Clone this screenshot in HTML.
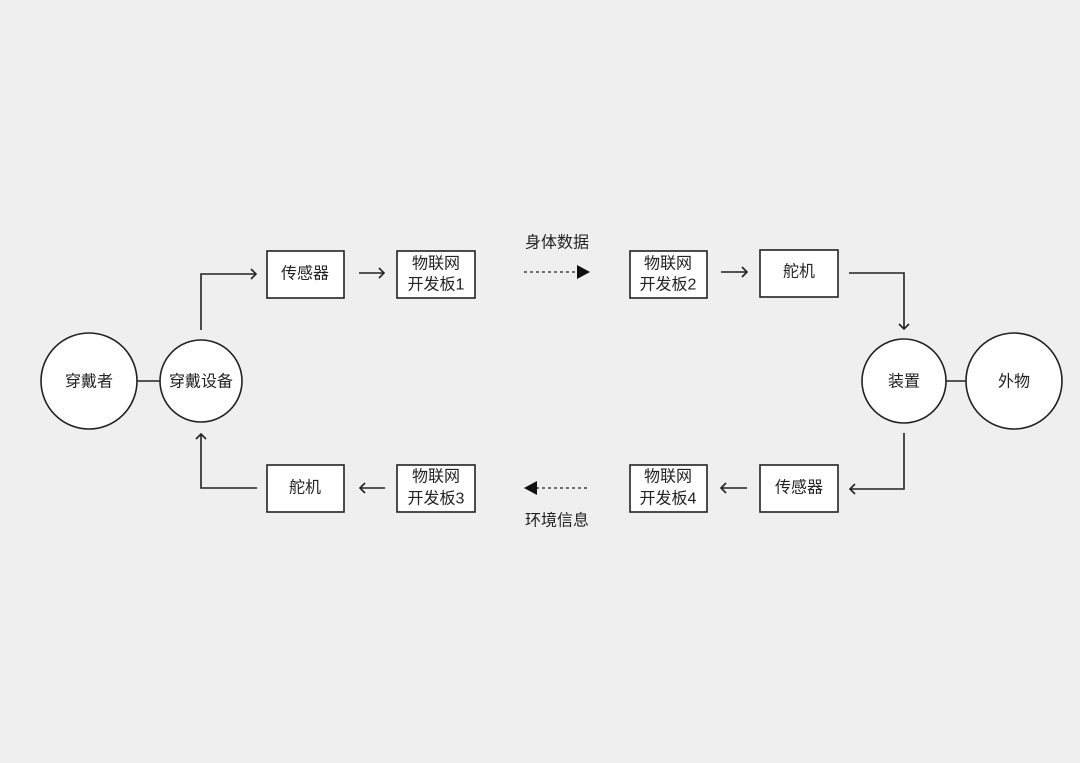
<!DOCTYPE html>
<html><head><meta charset="utf-8"><style>
html,body{margin:0;padding:0;background:#efefef;}
svg{display:block;}
text{font-family:"Liberation Sans","Noto Sans CJK SC",sans-serif;font-size:16px;fill:#222;text-anchor:middle;dominant-baseline:central;}
</style></head><body>
<svg width="1080" height="763" viewBox="0 0 1080 763" xmlns="http://www.w3.org/2000/svg">
<rect width="1080" height="763" fill="#efefef"/>
<g stroke="#222" stroke-width="1.6" fill="none">
<circle cx="89" cy="381" r="48" fill="#fff"/>
<circle cx="201" cy="381" r="41" fill="#fff"/>
<circle cx="904" cy="381" r="42" fill="#fff"/>
<circle cx="1014" cy="381" r="48" fill="#fff"/>
<line x1="137" y1="381" x2="160" y2="381"/>
<line x1="946" y1="381" x2="966" y2="381"/>
<rect x="267" y="251" width="77" height="47" fill="#fff"/>
<rect x="397" y="251" width="78" height="47" fill="#fff"/>
<rect x="630" y="251" width="77" height="47" fill="#fff"/>
<rect x="760" y="250" width="78" height="47" fill="#fff"/>
<rect x="267" y="465" width="77" height="47" fill="#fff"/>
<rect x="397" y="465" width="78" height="47" fill="#fff"/>
<rect x="630" y="465" width="77" height="47" fill="#fff"/>
<rect x="760" y="465" width="78" height="47" fill="#fff"/>
<polyline points="201,330 201,274 256,274"/>
<polyline points="251,269 256,274 251,279"/>
<polyline points="257,488 201,488 201,434"/>
<polyline points="196,439 201,434 206,439"/>
<line x1="359" y1="273" x2="384" y2="273"/>
<polyline points="379,268 384,273 379,278"/>
<line x1="360" y1="488" x2="385" y2="488"/>
<polyline points="365,483 360,488 365,493"/>
<line x1="721" y1="272" x2="747" y2="272"/>
<polyline points="742,267 747,272 742,277"/>
<line x1="721" y1="488" x2="747" y2="488"/>
<polyline points="726,483 721,488 726,493"/>
<polyline points="849,273 904,273 904,329"/>
<polyline points="899,324 904,329 909,324"/>
<polyline points="904,433 904,489 850,489"/>
<polyline points="855,484 850,489 855,494"/>
<line x1="524" y1="272" x2="577" y2="272" stroke-dasharray="3,3" stroke-width="1.2"/>
<line x1="536" y1="488" x2="590" y2="488" stroke-dasharray="3,3" stroke-width="1.2"/>
</g>
<polygon points="577,265 590,272 577,279" fill="#111"/>
<polygon points="537,481 524,488 537,495" fill="#111"/>
<text x="89" y="382">穿戴者</text>
<text x="201" y="382">穿戴设备</text>
<text x="904" y="382">装置</text>
<text x="1014" y="382">外物</text>
<text x="305" y="274">传感器</text>
<text x="436" y="264">物联网</text>
<text x="436" y="285">开发板1</text>
<text x="557" y="243">身体数据</text>
<text x="668" y="264">物联网</text>
<text x="668" y="285">开发板2</text>
<text x="799" y="272">舵机</text>
<text x="305" y="488">舵机</text>
<text x="436" y="477">物联网</text>
<text x="436" y="499">开发板3</text>
<text x="668" y="477">物联网</text>
<text x="668" y="499">开发板4</text>
<text x="799" y="488">传感器</text>
<text x="557" y="521">环境信息</text>
</svg>
</body></html>
